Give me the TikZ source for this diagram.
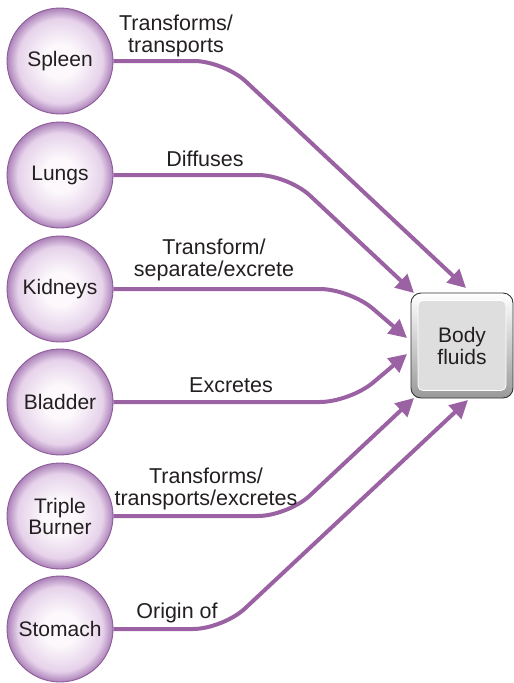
\documentclass[tikz,border=0pt]{standalone}
\usepackage{fontspec}
\setmainfont{Liberation Sans}
\usetikzlibrary{arrows.meta}

\definecolor{link}{HTML}{9A62A2}
\definecolor{orbline}{HTML}{8C5A98}
\definecolor{orbC}{HTML}{FCF8FC}
\definecolor{orbM}{HTML}{E6D2EA}
\definecolor{orbE}{HTML}{AC82B9}
\definecolor{txt}{HTML}{231F20}

\pgfdeclareradialshading{orb}{\pgfpoint{0bp}{0bp}}{%
  color(0bp)=(orbC); color(8bp)=(orbC); color(20bp)=(orbM);
  color(25bp)=(orbE); color(50bp)=(orbE)}

\begin{document}
\begin{tikzpicture}[x=1pt,y=-1pt,
  organ/.style={circle, minimum size=106pt, inner sep=0pt, draw=orbline,
    line width=0.9pt, shading=orb, align=center, text=txt,
    font=\fontsize{21}{22}\selectfont},
  lbl/.style={align=center, text=txt, inner sep=0pt, anchor=base,
    font=\fontsize{21.5}{22}\selectfont},
  conn/.style={draw=link, line width=4pt, rounded corners=30pt,
    -{Triangle[length=18pt,width=18pt]}}]
\useasboundingbox (0,0) rectangle (514,683);

% organs
\node[organ] (spleen)  at (60,61)  {Spleen};
\node[organ] (lungs)   at (60,175) {Lungs};
\node[organ] (kidneys) at (60,289) {Kidneys};
\node[organ] (bladder) at (60,402) {Bladder};
\node[organ] (triple)  at (60,516) {Triple\\[-1pt]Burner};
\node[organ] (stomach) at (60,629) {Stomach};

% body fluids box
\draw[rounded corners=10pt, draw=black!80, line width=0.9pt,
  top color=white, bottom color=black!40]
  (411,293) rectangle (513,398);
\node[draw=white, line width=0.8pt, fill=black!13, rounded corners=5pt,
  minimum width=88pt, minimum height=90pt, align=center, text=txt,
  font=\fontsize{21}{22}\selectfont] (fluids) at (462,345.5) {Body\\fluids};

% arrow tips
\coordinate (tS) at (466,288);
\coordinate (tL) at (414,293);
\coordinate (tK) at (407,338);
\coordinate (tB) at (407,354);
\coordinate (tT) at (414,398);
\coordinate (tM) at (468,400);

% connectors
\draw[conn] (spleen.east)  -- (224,61)  -- (tS);
\draw[conn] (lungs.east)   -- (288,175) -- (tL);
\draw[conn] (kidneys.east) -- (350,289) -- (tK);
\draw[conn] (bladder.east) -- (350,402) -- (tB);
\draw[conn] (triple.east)  -- (288,516) -- (tT);
\draw[conn] (stomach.east) -- (223,629) -- (tM);

% connector labels (base = baseline of the last line)
\node[lbl] (l1) at (176,52)  {Transforms/\\transports};
\node[lbl] (l2) at (205,166) {Diffuses};
\node[lbl] (l3) at (214,276) {Transform/\\separate/excrete};
\node[lbl] (l4) at (231,392) {Excretes};
\node[lbl] (l5) at (206,505) {Transforms/\\transports/excretes};
\node[lbl] (l6) at (177,618) {Origin of};
\end{tikzpicture}
\end{document}
